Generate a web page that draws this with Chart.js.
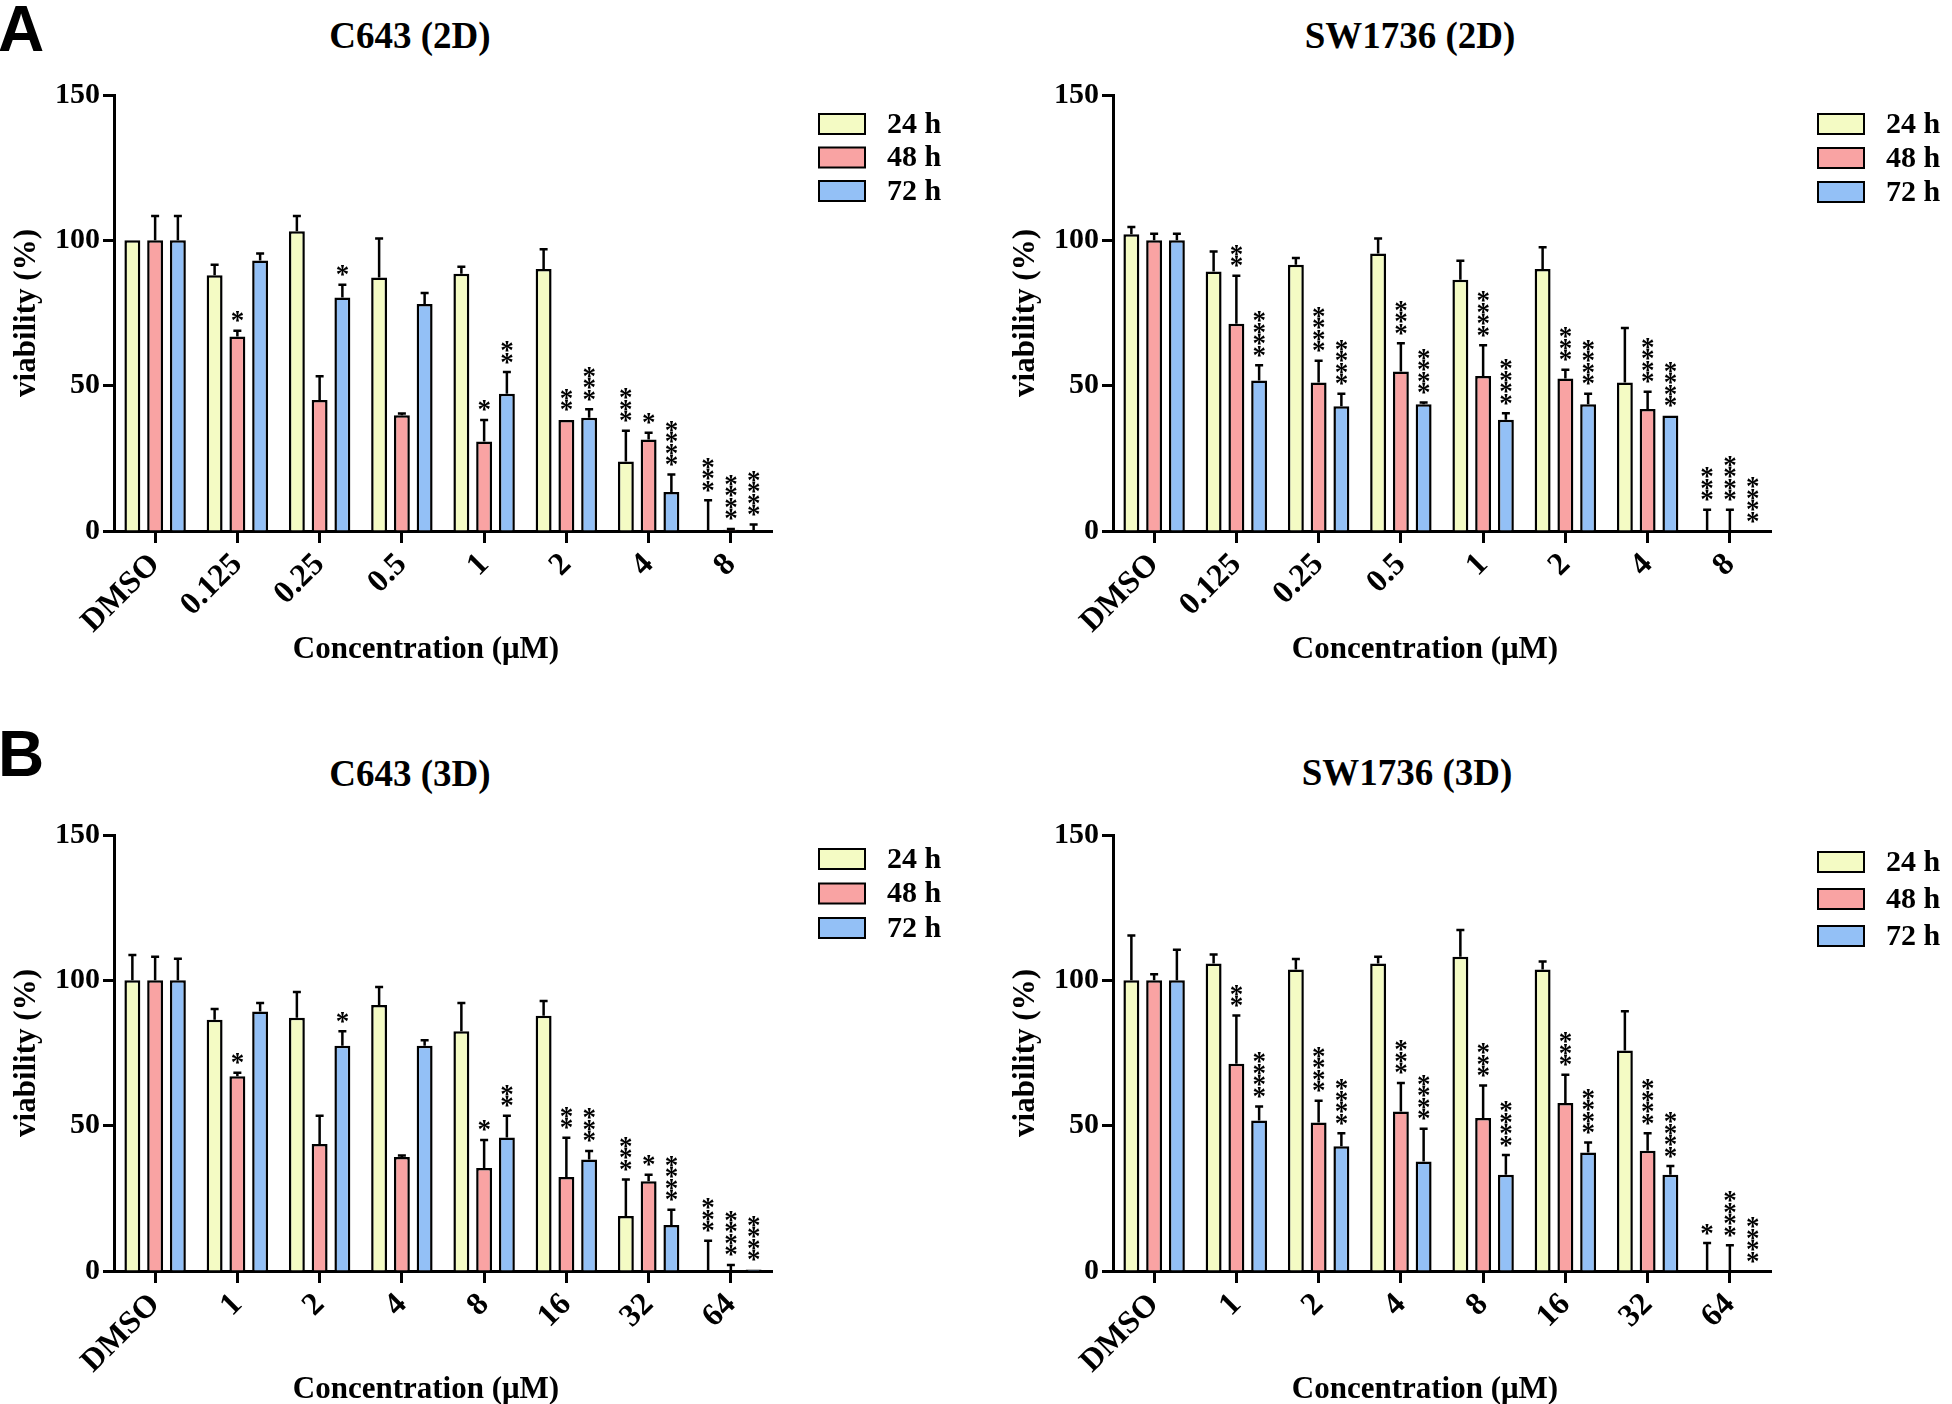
<!DOCTYPE html>
<html>
<head>
<meta charset="utf-8">
<script src="https://cdn.jsdelivr.net/npm/chart.js@4.4.0/dist/chart.umd.min.js"></script>
<style>
  body { margin: 0; background: #fff; }
  #page { position: relative; width: 1952px; height: 1404px; overflow: hidden; background: #fff; }
  .letter { position: absolute; font-family: 'Liberation Sans', Arial, sans-serif; font-weight: bold; font-size: 64px; line-height: 64px; color: #000; }
  .title { position: absolute; font-family: 'Liberation Serif', 'Times New Roman', serif; font-weight: bold; font-size: 37px; line-height: 36px; color: #000; transform: translateX(-50%); white-space: nowrap; }
  canvas { position: absolute; }
</style>
</head>
<body>
<div id="page">
  <div class="letter" style="left:-2px;top:-3px">A</div>
  <div class="letter" style="left:-2px;top:722px">B</div>
  <div class="title" style="left:410px;top:18px">C643 (2D)</div>
  <div class="title" style="left:1410px;top:18px">SW1736 (2D)</div>
  <div class="title" style="left:410px;top:756px">C643 (3D)</div>
  <div class="title" style="left:1407px;top:755px">SW1736 (3D)</div>
  <canvas id="c643_2d" width="976" height="668" style="left:0px;top:0px"></canvas>
  <canvas id="sw1736_2d" width="953" height="668" style="left:999px;top:0px"></canvas>
  <canvas id="c643_3d" width="976" height="668" style="left:0px;top:740px"></canvas>
  <canvas id="sw1736_3d" width="953" height="668" style="left:999px;top:740px"></canvas>
</div>
<script>
// series names and colours
const timeLabels = ['24 h', '48 h', '72 h'];
const barColors = ['#F4FBC4', '#F9A3A3', '#93C0F6'];

// x categories
const conc2D = ['DMSO', '0.125', '0.25', '0.5', '1', '2', '4', '8'];
const conc3D = ['DMSO', '1', '2', '4', '8', '16', '32', '64'];

// C643 (2D) - mean, SD, significance
const c643_2d_24 = [100, 88.0, 103.1, 87.2, 88.5, 90.1, 23.9, 0];
const c643_2d_48 = [100, 66.9, 45.1, 39.8, 30.8, 38.2, 31.5, 0.4];
const c643_2d_72 = [100, 93.1, 80.3, 78.1, 47.2, 39.0, 13.4, 0];
const c643_2d_24sd = [0, 3.6, 5.3, 13.4, 2.4, 6.8, 10.6, 10.6];
const c643_2d_48sd = [8.4, 2.0, 8.1, 0.6, 7.4, 0, 2.3, 0.3];
const c643_2d_72sd = [8.4, 2.4, 4.4, 3.8, 7.5, 2.9, 6.0, 2.2];
const c643_2d_24sig = ['', '', '', '', '', '', '***', '***'];
const c643_2d_48sig = ['', '*', '', '', '*', '**', '*', '****'];
const c643_2d_72sig = ['', '', '*', '', '**', '***', '****', '****'];

// SW1736 (2D)
const sw_2d_24 = [102.1, 89.3, 91.6, 95.5, 86.4, 90.1, 51.1, 0];
const sw_2d_48 = [100, 71.3, 51.1, 54.9, 53.3, 52.5, 42.0, 0];
const sw_2d_72 = [100, 51.8, 42.9, 43.6, 38.3, 43.6, 39.7, 0];
const sw_2d_24sd = [2.5, 6.9, 2.3, 5.1, 6.6, 7.5, 18.7, 7.3];
const sw_2d_48sd = [2.3, 16.5, 7.5, 9.7, 10.6, 3.0, 5.9, 7.3];
const sw_2d_72sd = [2.3, 5.2, 4.3, 0.6, 2.2, 3.6, 0, 0];
const sw_2d_24sig = ['', '', '', '', '', '', '', '***'];
const sw_2d_48sig = ['', '**', '****', '***', '****', '***', '****', '****'];
const sw_2d_72sig = ['', '****', '****', '****', '****', '****', '****', '****'];

// C643 (3D)
const c643_3d_24 = [100, 86.4, 87.1, 91.5, 82.5, 87.8, 18.9, 0];
const c643_3d_48 = [100, 67.0, 43.7, 39.2, 35.4, 32.3, 30.9, 0];
const c643_3d_72 = [100, 89.3, 77.5, 77.5, 45.9, 38.4, 15.8, 0.5];
const c643_3d_24sd = [8.7, 3.7, 8.9, 6.2, 9.7, 5.1, 12.6, 10.4];
const c643_3d_48sd = [8.1, 1.2, 9.7, 0.5, 9.7, 13.5, 2.2, 2.1];
const c643_3d_72sd = [7.4, 2.9, 5.0, 1.9, 7.5, 2.9, 5.3, 0];
const c643_3d_24sig = ['', '', '', '', '', '', '***', '***'];
const c643_3d_48sig = ['', '*', '', '', '*', '**', '*', '****'];
const c643_3d_72sig = ['', '', '*', '', '**', '***', '****', '****'];

// SW1736 (3D)
const sw_3d_24 = [100, 105.8, 103.7, 105.8, 108.1, 103.7, 75.9, 0];
const sw_3d_48 = [100, 71.3, 51.1, 54.9, 52.6, 57.8, 41.4, 0];
const sw_3d_72 = [100, 51.8, 42.9, 37.7, 33.1, 40.8, 33.1, 0];
const sw_3d_24sd = [15.4, 3.1, 3.6, 2.3, 9.2, 2.8, 13.5, 9.6];
const sw_3d_48sd = [2.1, 16.6, 7.5, 9.8, 11.2, 9.7, 6.0, 8.9];
const sw_3d_72sd = [10.5, 4.8, 4.5, 11.2, 6.8, 3.4, 3.0, 0];
const sw_3d_24sig = ['', '', '', '', '', '', '', '*'];
const sw_3d_48sig = ['', '**', '****', '***', '***', '***', '****', '****'];
const sw_3d_72sig = ['', '****', '****', '****', '****', '****', '****', '****'];

const serif = "'Liberation Serif', 'Times New Roman', serif";

// upper error bars + significance stars
const errorBarPlugin = {
  id: 'errorBars',
  afterDatasetsDraw(chart) {
    const ctx = chart.ctx;
    const yScale = chart.scales.y;
    ctx.save();
    ctx.font = 'bold 27px ' + serif;
    const m = ctx.measureText('*');
    const starShift = (m.actualBoundingBoxAscent - m.actualBoundingBoxDescent) / 2;
    chart.data.datasets.forEach((ds, di) => {
      const meta = chart.getDatasetMeta(di);
      meta.data.forEach((bar, i) => {
        const sd = ds.sd[i];
        let top = yScale.getPixelForValue(ds.data[i]);
        if (sd > 0) {
          top = yScale.getPixelForValue(ds.data[i] + sd);
          ctx.strokeStyle = '#000';
          ctx.lineWidth = 2.5;
          ctx.beginPath();
          ctx.moveTo(bar.x, yScale.getPixelForValue(ds.data[i]));
          ctx.lineTo(bar.x, top);
          ctx.moveTo(bar.x - 4, top);
          ctx.lineTo(bar.x + 4, top);
          ctx.stroke();
        }
        const sig = ds.sig[i];
        ctx.fillStyle = '#000';
        ctx.textAlign = 'center';
        ctx.textBaseline = 'alphabetic';
        for (let k = 0; k < sig.length; k++) {
          const cy = top - 14 - k * 11.5;
          ctx.fillText('*', bar.x, cy + starShift);
        }
      });
    });
    ctx.restore();
  }
};

// legend to the right of the plot, x-axis title a little left of centre
const sideLegendPlugin = {
  id: 'sideLegend',
  afterDraw(chart, args, opts) {
    const ctx = chart.ctx;
    const area = chart.chartArea;
    const x0 = area.right + opts.dx;
    ctx.save();
    chart.data.datasets.forEach((ds, i) => {
      const cy = opts.y + i * opts.spacing;
      ctx.fillStyle = ds.backgroundColor;
      ctx.fillRect(x0, cy - 10, 46, 20);
      ctx.strokeStyle = '#000';
      ctx.lineWidth = 2;
      ctx.strokeRect(x0, cy - 10, 46, 20);
      ctx.fillStyle = '#000';
      ctx.font = 'bold 30px ' + serif;
      ctx.textAlign = 'left';
      ctx.textBaseline = 'middle';
      ctx.fillText(ds.label, x0 + 46 + opts.gap, cy + 1);
    });
    ctx.font = 'bold 31px ' + serif;
    ctx.textAlign = 'center';
    ctx.textBaseline = 'middle';
    ctx.fillText(opts.xTitle, (area.left + area.right) / 2 - 17, area.bottom + 119);
    ctx.restore();
  }
};

function makeChart(id, labels, means, sds, sigs, legendY, legendSpacing) {
  const canvas = document.getElementById(id);
  const datasets = timeLabels.map((t, i) => ({
    label: t,
    data: means[i],
    sd: sds[i],
    sig: sigs[i],
    backgroundColor: barColors[i],
    borderColor: '#000',
    borderWidth: 2.5,
    categoryPercentage: 0.83,
    barPercentage: 0.7
  }));
  return new Chart(canvas.getContext('2d'), {
    type: 'bar',
    data: { labels: labels, datasets: datasets },
    plugins: [errorBarPlugin, sideLegendPlugin],
    options: {
      responsive: false,
      animation: false,
      devicePixelRatio: 1,
      layout: { padding: { left: 0, top: 95, right: canvas.width - 114 - 658, bottom: 0 } },
      plugins: {
        legend: { display: false },
        tooltip: { enabled: false },
        sideLegend: { dx: 47, gap: 22, y: legendY, spacing: legendSpacing, xTitle: 'Concentration (μM)' }
      },
      scales: {
        x: {
          z: 1,
          offset: true,
          grid: { drawOnChartArea: false, drawTicks: true, tickLength: 12, tickWidth: 3, tickColor: '#000', offset: false },
          border: { display: true, color: '#000', width: 3 },
          ticks: {
            color: '#000', autoSkip: false, minRotation: 45, maxRotation: 45, padding: 3,
            font: { family: serif, weight: 'bold', size: 32 }
          },
          title: { display: false },
          afterFit: (s) => { s.height = 137; }
        },
        y: {
          z: 1,
          min: 0,
          max: 150,
          grid: { drawOnChartArea: false, drawTicks: true, tickLength: 11, tickWidth: 3, tickColor: '#000' },
          border: { display: true, color: '#000', width: 3 },
          ticks: {
            stepSize: 50, color: '#000', padding: 3,
            font: { family: serif, weight: 'bold', size: 30 }
          },
          title: {
            display: true, text: 'viability (%)', color: '#000',
            font: { family: serif, weight: 'bold', size: 31 }, padding: { top: 8, bottom: 0 }
          },
          afterFit: (s) => { s.width = 114; }
        }
      }
    }
  });
}

makeChart('c643_2d', conc2D,
  [c643_2d_24, c643_2d_48, c643_2d_72],
  [c643_2d_24sd, c643_2d_48sd, c643_2d_72sd],
  [c643_2d_24sig, c643_2d_48sig, c643_2d_72sig], 124, 33.5);

makeChart('sw1736_2d', conc2D,
  [sw_2d_24, sw_2d_48, sw_2d_72],
  [sw_2d_24sd, sw_2d_48sd, sw_2d_72sd],
  [sw_2d_24sig, sw_2d_48sig, sw_2d_72sig], 124, 34);

makeChart('c643_3d', conc3D,
  [c643_3d_24, c643_3d_48, c643_3d_72],
  [c643_3d_24sd, c643_3d_48sd, c643_3d_72sd],
  [c643_3d_24sig, c643_3d_48sig, c643_3d_72sig], 119, 34.5);

makeChart('sw1736_3d', conc3D,
  [sw_3d_24, sw_3d_48, sw_3d_72],
  [sw_3d_24sd, sw_3d_48sd, sw_3d_72sd],
  [sw_3d_24sig, sw_3d_48sig, sw_3d_72sig], 122, 37);
</script>
</body>
</html>
